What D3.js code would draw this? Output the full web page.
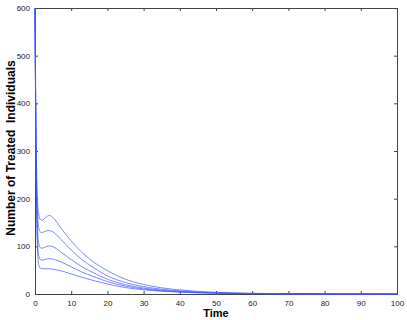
<!DOCTYPE html>
<html>
<head>
<meta charset="utf-8">
<script src="https://cdn.jsdelivr.net/npm/d3@7"></script>
<style>
  body { margin: 0; background: #fff; }
  text { font-family: "Liberation Sans", Arial, sans-serif; }
</style>
</head>
<body>
<div id="VizBox"></div>
<script>
// time points (x)
var times = [0, 0.3, 0.6, 1, 1.5, 2, 3, 4, 5, 7, 10, 13, 16, 20, 25, 30, 35, 40, 45, 50, 55, 60, 70, 80, 90, 100];

// five runs, top to bottom
var run1 = [600, 330, 215, 168, 156, 155, 161, 165, 160, 140, 111, 87, 68, 49, 31, 20, 13, 8.5, 5.5, 3.5, 2.2, 1.4, 0.6, 0.3, 0.1, 0.05];
var run2 = [600, 310, 190, 140, 130, 129, 132, 133, 130, 116, 92, 72, 56, 38, 24, 15.5, 10, 6.5, 4.2, 2.7, 1.7, 1.1, 0.5, 0.2, 0.1, 0.04];
var run3 = [600, 290, 160, 108, 97, 96, 99, 101, 99, 89, 72, 57, 45, 31, 19.5, 12.5, 8, 5.2, 3.4, 2.2, 1.4, 0.9, 0.4, 0.2, 0.08, 0.03];
var run4 = [600, 275, 135, 82, 72, 71, 73, 74, 73, 68, 57, 46, 37, 26, 16.5, 10.5, 6.8, 4.4, 2.9, 1.9, 1.2, 0.8, 0.3, 0.15, 0.06, 0.02];
var run5 = [600, 260, 115, 62, 54, 53, 53, 53, 52, 49, 42, 35, 28.5, 21, 13.5, 8.8, 5.7, 3.7, 2.4, 1.6, 1, 0.65, 0.3, 0.12, 0.05, 0.02];

var xTicks = [0, 10, 20, 30, 40, 50, 60, 70, 80, 90, 100];
var yTicks = [0, 100, 200, 300, 400, 500, 600];

var margin = {top: 8, right: 10, bottom: 26, left: 35},
  width = 407 - margin.left - margin.right,
  height = 320 - margin.top - margin.bottom;

var svg = d3.select("#VizBox")
.append("svg")
  .attr("width", 407)
  .attr("height", 320)
.append("g")
  .attr("transform", "translate(" + margin.left + "," + margin.top + ")");

var x = d3.scaleLinear().domain([0, 100]).range([0, width]);
var y = d3.scaleLinear().domain([0, 600]).range([height, 0]);

// axes, MATLAB style: ticks pointing inward on all four sides
function styleAxis(g) {
  g.select(".domain").attr("stroke", "#444");
  g.selectAll(".tick line").attr("stroke", "#444");
  g.selectAll(".tick text").attr("fill", "#222").style("font-size", "8px");
}

svg.append("g")
  .attr("transform", "translate(0," + height + ")")
  .call(d3.axisBottom(x).tickValues(xTicks).tickSizeInner(-3).tickSizeOuter(0).tickPadding(6))
  .call(styleAxis);
svg.append("g")
  .call(d3.axisTop(x).tickValues(xTicks).tickSizeInner(-3).tickSizeOuter(0).tickFormat(""))
  .call(styleAxis);
svg.append("g")
  .call(d3.axisLeft(y).tickValues(yTicks).tickSizeInner(-3).tickSizeOuter(0).tickPadding(5))
  .call(styleAxis);
svg.append("g")
  .attr("transform", "translate(" + width + ",0)")
  .call(d3.axisRight(y).tickValues(yTicks).tickSizeInner(-3).tickSizeOuter(0).tickFormat(""))
  .call(styleAxis);

// curves
var line = d3.line()
  .x(function(d) { return x(d[0]); })
  .y(function(d) { return y(d[1]); })
  .curve(d3.curveMonotoneX);

[run1, run2, run3, run4, run5].forEach(function(run) {
  svg.append("path")
    .datum(times.map(function(t, i) { return [t, run[i]]; }))
    .attr("fill", "none")
    .attr("stroke", "#4055ff")
    .attr("stroke-width", 0.7)
    .attr("d", line);
});

// labels
svg.append("text")
  .attr("x", width / 2)
  .attr("y", height + 23)
  .attr("text-anchor", "middle")
  .style("font-size", "11px")
  .style("font-weight", "bold")
  .text("Time");

svg.append("text")
  .attr("transform", "translate(-20," + (height / 2 - 3) + ") rotate(-90)")
  .attr("text-anchor", "middle")
  .style("font-size", "12px")
  .style("font-weight", "bold")
  .style("white-space", "pre")
  .text("Number of Treated  Individuals");
</script>
</body>
</html>
